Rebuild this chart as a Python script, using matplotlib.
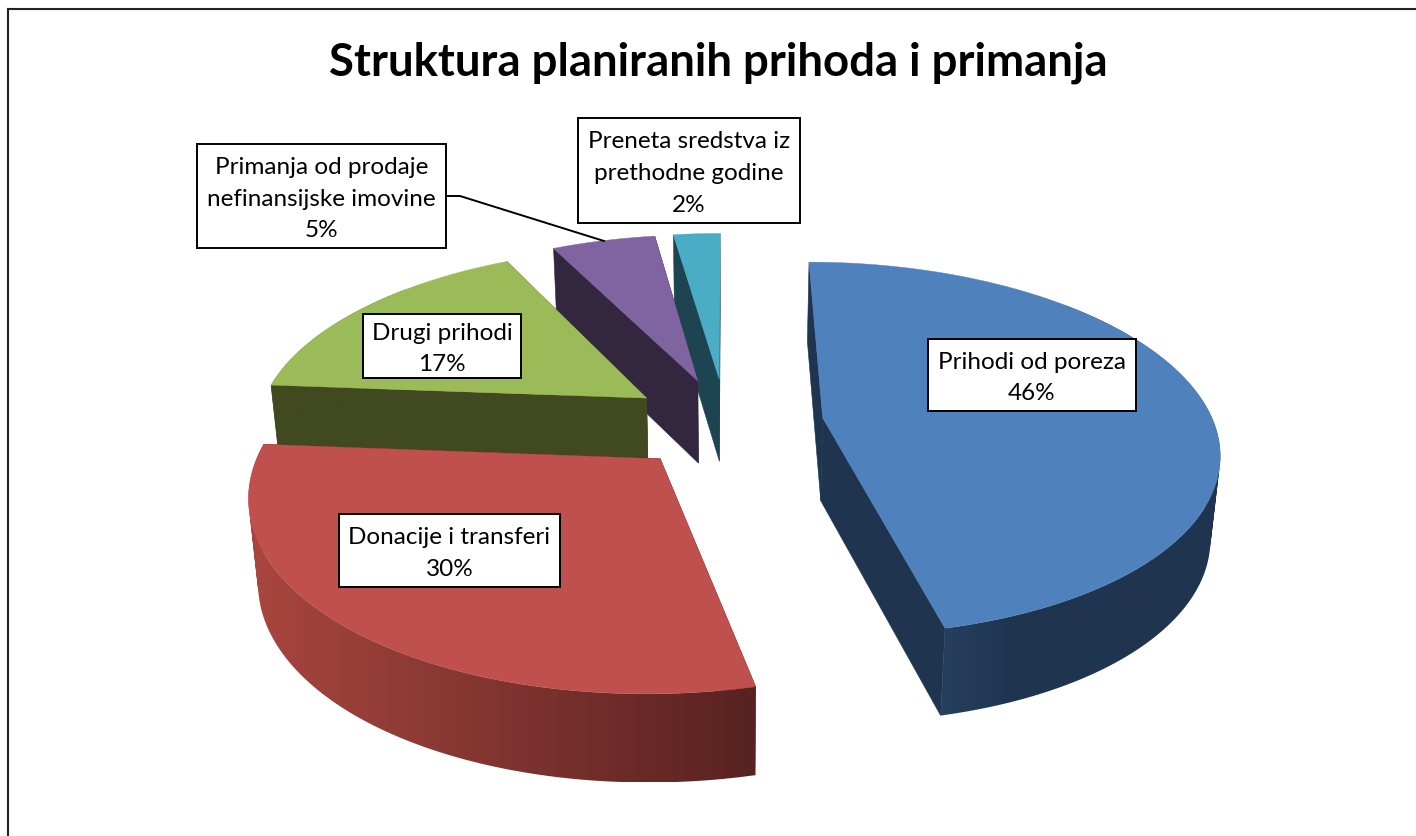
import numpy as np
import matplotlib
matplotlib.use('Agg')
import matplotlib.pyplot as plt
from matplotlib.colors import LinearSegmentedColormap
from matplotlib.patches import PathPatch, Polygon, Rectangle
from matplotlib.path import Path

plt.rcParams['font.family'] = ['Lato', 'DejaVu Sans']

title = 'Struktura planiranih prihoda i primanja'
names = ['Prihodi od poreza', 'Donacije i transferi', 'Drugi prihodi',
         'Primanja od prodaje\nnefinansijske imovine', 'Preneta sredstva iz\nprethodne godine']
percent_labels = ['46%', '30%', '17%', '5%', '2%']
# slice sizes as measured on the picture
values = [46.4, 29.8, 16.4, 5.1, 2.3]
top_colors = ['#4F81BD', '#C0504D', '#9BBB59', '#8064A2', '#4BACC6']
cut_colors = ['#1F344F', '#5A2422', '#40491F', '#33263F', '#1D4451']
rim_ramps = [('#27405F', '#1F344F', '#1F344F', '#1F344F', '#1F344F'), ('#A9463F', '#572220'),
             ('#40491F', '#40491F'), ('#33263F', '#33263F'), ('#1D4451', '#1D4451')]
# label boxes: left, top, right, bottom in picture pixels
boxes = [(928, 340, 1136, 412), (339, 515, 560, 588), (363, 315, 521, 379),
         (197, 145, 446, 249), (578, 119, 800, 224)]

# view of the tilted pie
CX, CY = 726, 424
RX, RY = 391, 183
PERSP = 0.165
EXPLODE = 0.25
DEPTH = 83
BOTTOM_SHRINK = 0.98


def project(px, py, lower=False):
    f = 1 / (1 + PERSP * py)
    x = RX * px * f
    y = CY + RY * -py * f
    if lower:
        return CX + x * BOTTOM_SHRINK, y + DEPTH * f ** 0.3
    return CX + x, y


def rim_path(tx, ty, bx, by):
    # all quads wound the same way so the union fills without holes
    quads = []
    for k in range(len(tx) - 1):
        q = np.array([(tx[k], ty[k]), (tx[k + 1], ty[k + 1]), (bx[k + 1], by[k + 1]), (bx[k], by[k])])
        area = np.sum(q[:, 0] * np.roll(q[:, 1], -1) - np.roll(q[:, 0], -1) * q[:, 1])
        if area < 0:
            q = q[::-1]
        quads.append(Path(np.vstack([q, q[0]]), closed=True))
    return Path.make_compound_path(*quads)


fig = plt.figure(figsize=(14.16, 8.37), dpi=100)
ax = fig.add_axes([0, 0, 1, 1])
ax.axis('off')

ax.plot([8, 8], [837, 10], color='#222222', lw=1.5, solid_capstyle='projecting')
ax.plot([8, 1416], [10, 10], color='#222222', lw=1.5, solid_capstyle='projecting')

edges = np.cumsum([0] + values) / sum(values) * 2 * np.pi
z = 1
for i in [4, 3, 2, 1, 0]:
    a0, a1 = edges[i], edges[i + 1]
    mid = (a0 + a1) / 2
    ox, oy = EXPLODE * np.sin(mid), EXPLODE * np.cos(mid)
    ang = np.linspace(a0, a1, max(8, int((a1 - a0) * 60)))
    rim_x = ox + np.sin(ang)
    rim_y = oy + np.cos(ang)

    tx, ty = project(rim_x, rim_y)
    bx, by = project(rim_x, rim_y, lower=True)
    ax0, ay0 = project(ox, oy)
    ax1, ay1 = project(ox, oy, lower=True)

    # cut faces first, then the outer rim, then the top
    for tx0, ty0, bx0, by0 in [(tx[0], ty[0], bx[0], by[0]), (tx[-1], ty[-1], bx[-1], by[-1])]:
        ax.add_patch(Polygon([(ax0, ay0), (tx0, ty0), (bx0, by0), (ax1, ay1)],
                             fc=cut_colors[i], ec=cut_colors[i], lw=0.4, zorder=z))
    z += 1
    front = np.cos(ang) < 0.7
    if front.sum() > 1:
        ramp = LinearSegmentedColormap.from_list('rim', rim_ramps[i])
        rim = PathPatch(rim_path(tx[front], ty[front], bx[front], by[front]), fc='none', ec='none', zorder=z)
        ax.add_patch(rim)
        lo, hi = min(tx[front].min(), bx[front].min()), max(tx[front].max(), bx[front].max())
        top, bot = min(ty[front].min(), by[front].min()), max(ty[front].max(), by[front].max())
        grad = ax.imshow(np.linspace(0, 1, 256).reshape(1, -1), extent=[lo, hi, bot, top],
                         cmap=ramp, aspect='auto', zorder=z)
        grad.set_clip_path(rim)
    z += 1
    ax.add_patch(Polygon([(ax0, ay0)] + list(zip(tx, ty)), fc=top_colors[i], ec=top_colors[i],
                         lw=0.3, zorder=z))
    z += 1

ax.set_xlim(0, 1416)
ax.set_ylim(837, 0)

# leader line for the purple slice
ax.plot([446, 460, 604], [197, 197, 242], color='black', lw=1.4, zorder=50)

for name, pct, (l, t, r, b) in zip(names, percent_labels, boxes):
    ax.add_patch(Rectangle((l, t), r - l, b - t, fc='white', ec='black', lw=1.4, zorder=60))
    ax.text((l + r) / 2, (t + b) / 2 + 2, f'{name}\n{pct}', ha='center', va='center',
            fontsize=17.5, linespacing=1.62, color='black', zorder=70)

ax.text(718, 63, title, ha='center', va='center', fontsize=32.8, fontweight='bold', color='black')

fig.savefig('out.png', dpi=100, facecolor='white')
